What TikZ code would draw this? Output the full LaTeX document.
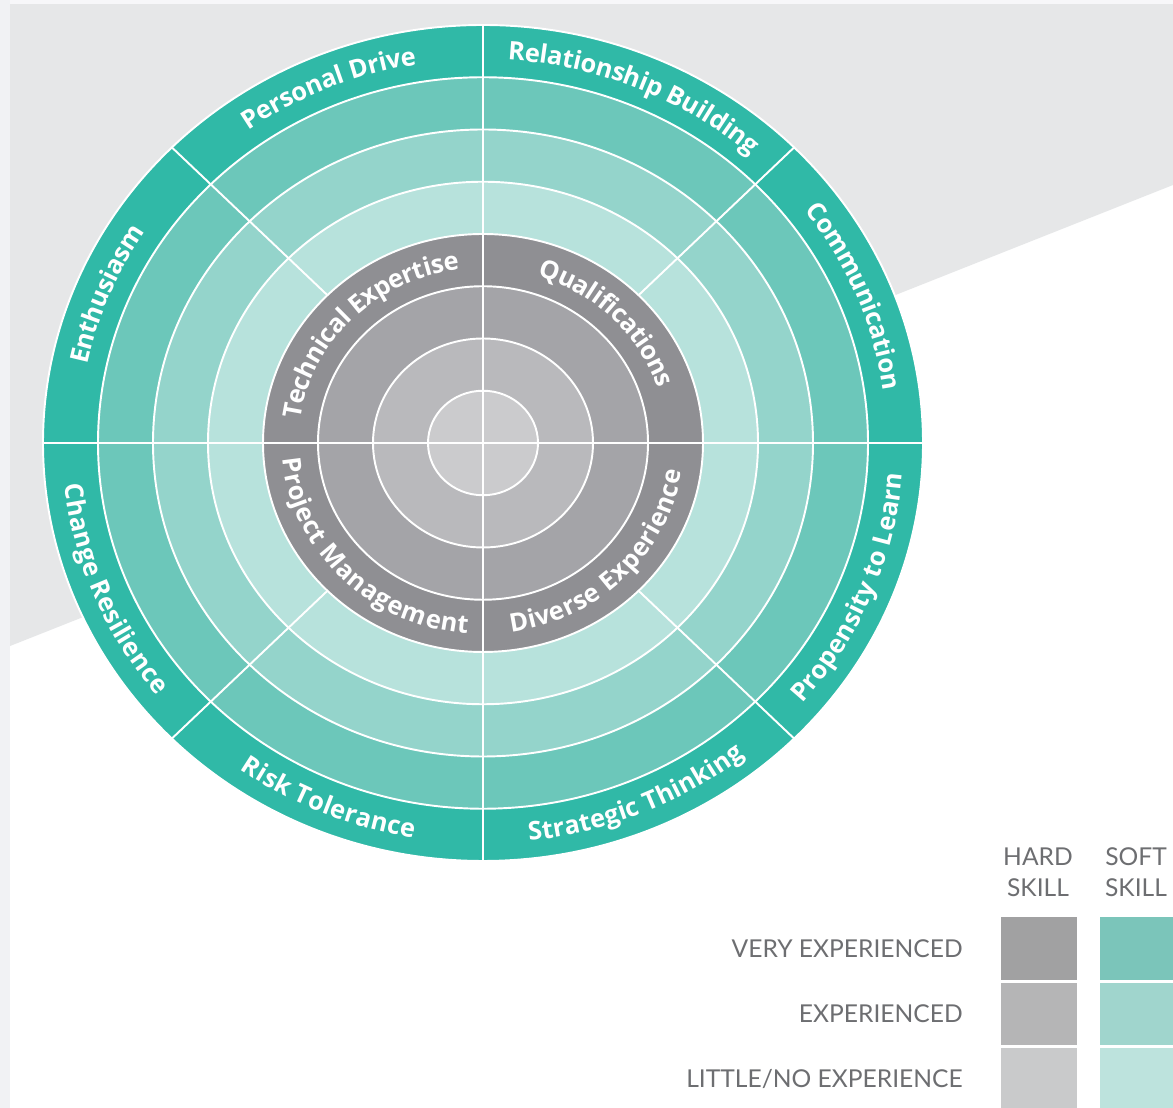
\documentclass[tikz,border=0pt]{standalone}
\usepackage{fontspec}
\setmainfont{Open Sans}
\newfontfamily\legendfont{Lato}
\usetikzlibrary{decorations.text,positioning}

\definecolor{band}{HTML}{E6E7E8}
\definecolor{sidestrip}{HTML}{F1F2F4}
\definecolor{topstrip}{HTML}{F7F7F9}
\definecolor{softA}{HTML}{30B9A7}
\definecolor{softB}{HTML}{6CC7BA}
\definecolor{softC}{HTML}{94D4CB}
\definecolor{softD}{HTML}{B7E2DC}
\definecolor{hardA}{HTML}{8F8F93}
\definecolor{hardB}{HTML}{A4A4A8}
\definecolor{hardC}{HTML}{B9B9BC}
\definecolor{hardD}{HTML}{CBCBCD}
\definecolor{keyhardA}{HTML}{A1A1A2}
\definecolor{keyhardB}{HTML}{B5B5B6}
\definecolor{keyhardC}{HTML}{C9CACB}
\definecolor{keysoftA}{HTML}{7BC5BA}
\definecolor{keysoftB}{HTML}{A0D5CD}
\definecolor{keysoftC}{HTML}{BDE3DD}
\definecolor{keyink}{HTML}{6D6E71}

\newcommand{\skillfont}{\color{white}\fontsize{14.5}{17}\selectfont\bfseries}
\newcommand{\skillarc}[5]{\path[skilllabel={|\skillfont|#5}] ({#1*cos(#3)},{#2*sin(#3)}) arc[start angle=#3, end angle=#4, x radius=#1, y radius=#2];}

\tikzset{
	divider/.style={white, line width=1.1pt},
	skilllabel/.style={decorate, decoration={text along path, text align=center, raise=-4.7pt, text={#1}}},
	keybox/.style={minimum width=1.52cm, minimum height=1.25cm, inner sep=0pt, outer sep=0pt},
	keytext/.style={font=\legendfont\fontsize{14}{17.6}\selectfont, text=keyink, inner sep=0pt}
}

\begin{document}
\begin{tikzpicture}[x=0.02cm, y=0.02cm]
	\useasboundingbox (0,0) rectangle (1173,1108);
	\fill[white] (0,0) rectangle (1173,1108);
	\fill[band] (0,1108) -- (1173,1108) -- (1173,923) -- (0,458) -- cycle;
	\fill[topstrip] (0,1104) rectangle (1173,1108);
	\fill[sidestrip] (0,0) rectangle (10,1108);

	\begin{scope}[shift={(483,665)}]
	\coordinate (hub) at (0,0);
	\foreach \r/\col in {8/softA,7/softB,6/softC,5/softD,4/hardA,3/hardB,2/hardC,1/hardD}
		\fill[\col] (hub) circle[x radius=55*\r, y radius=52.25*\r];
	\foreach \r in {1,...,8}
		\draw[divider] (hub) circle[x radius=55*\r, y radius=52.25*\r];

	\draw[divider] (-440,0) -- (440,0);
	\draw[divider] (0,-418) -- (0,418);
	\foreach \a in {45,135,225,315}
		\draw[divider] ({220*cos(\a)},{209*sin(\a)}) -- ({440*cos(\a)},{418*sin(\a)});

	\skillarc{412.5}{391.9}{180}{135}{Enthusiasm}
	\skillarc{412.5}{391.9}{135}{90}{Personal Drive}
	\skillarc{412.5}{391.9}{90}{45}{Relationship Building}
	\skillarc{412.5}{391.9}{45}{0}{Communication}
	\skillarc{412.5}{391.9}{180}{225}{Change Resilience}
	\skillarc{412.5}{391.9}{225}{270}{Risk Tolerance}
	\skillarc{412.5}{391.9}{270}{315}{Strategic Thinking}
	\skillarc{412.5}{391.9}{315}{360}{Propensity to Learn}

	\skillarc{192.5}{182.9}{180}{90}{Technical Expertise}
	\skillarc{192.5}{182.9}{90}{0}{Qualifications}
	\skillarc{192.5}{182.9}{180}{270}{Project Management}
	\skillarc{192.5}{182.9}{270}{360}{Diverse Experience}
	\end{scope}

	\node[keybox, fill=keyhardA] (hard1) at (1039,159.5) {};
	\node[keybox, fill=keyhardB, below=0.06cm of hard1] (hard2) {};
	\node[keybox, fill=keyhardC, below=0.06cm of hard2] (hard3) {};
	\node[keybox, fill=keysoftA, minimum width=1.5cm] (soft1) at (1137.5,159.5) {};
	\node[keybox, fill=keysoftB, minimum width=1.5cm, below=0.06cm of soft1] (soft2) {};
	\node[keybox, fill=keysoftC, minimum width=1.5cm, below=0.06cm of soft2] (soft3) {};

	\node[keytext, align=center] (hardhead) at (1038,236) {HARD\\SKILL};
	\node[keytext, align=center] (softhead) at (1136,236) {SOFT\\SKILL};

	\node[keytext, left=0.76cm of hard1] (veryexp) {VERY EXPERIENCED};
	\node[keytext, left=0.76cm of hard2] (exp) {EXPERIENCED};
	\node[keytext, left=0.76cm of hard3] (noexp) {LITTLE/NO EXPERIENCE};
\end{tikzpicture}
\end{document}
